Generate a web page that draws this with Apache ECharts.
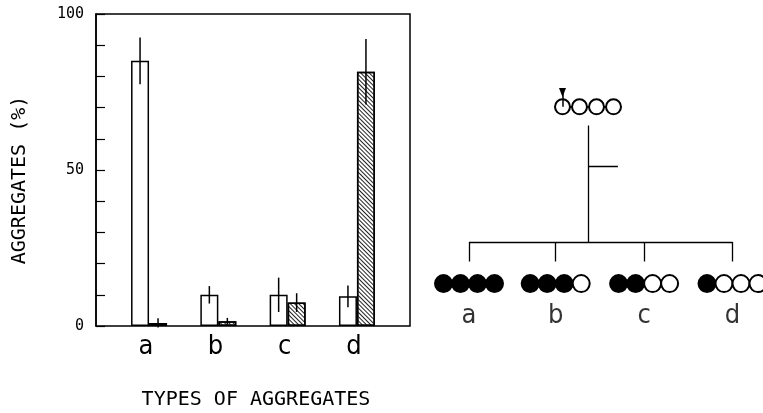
<!DOCTYPE html>
<html><head><meta charset="utf-8">
<script src="https://cdn.jsdelivr.net/npm/echarts@6/dist/echarts.min.js"></script>
<style>html,body{margin:0;padding:0;background:#fff}#c{width:763px;height:413px}</style>
</head><body><div id="c"></div>
<script>
// ---- bar chart data ----
const categories = ['a', 'b', 'c', 'd'];
const openValues = [85, 10, 10, 9.5];
const openErrors = [7.5, 2.8, 5.5, 3.5];
const hatchedValues = [1, 1.5, 7.5, 81.5];
const hatchedErrors = [1.5, 1.1, 3, 10.5];
const yTickLabels = [0, 50, 100];
const yTitle = 'AGGREGATES (%)';
const xTitle = 'TYPES OF AGGREGATES';

// ---- schematic data (diagram units: 1 = bead spacing) ----
const childCenters = [0, 5.1, 10.3, 15.5];
const childFilledCounts = [4, 3, 2, 1];
const rootCenter = 7;
const beadsPerChain = 4;
const levelArrowTop = 0.3, levelArrowHead = 0.56, levelRoot = 1.4, levelStemTop = 2.5,
      levelBranch = 4.9, levelBar = 9.35, levelDrop = 10.5, levelChild = 11.8, levelLabel = 13.7;
const branchLength = 1.76;

// ---- build ----
const FONT = 'DejaVu Sans Mono';
const LABEL_FONT = '"DejaVu Sans Condensed", "Liberation Sans Narrow", sans-serif';
const BAR_W = 18;

function beadXs(c) { const xs = []; for (let k = 0; k < beadsPerChain; k++) xs.push(c + k - (beadsPerChain - 1) / 2); return xs; }

const childBeads = [];
childCenters.forEach((c, i) => beadXs(c).forEach((x, k) => childBeads.push([x, levelChild, k < childFilledCounts[i] ? 1 : 0])));
const rootBeads = beadXs(rootCenter).map(x => [x, levelRoot, 0]);

const treeLines = [
  { coords: [[rootCenter, levelStemTop], [rootCenter, levelBar]] },
  { coords: [[rootCenter, levelBranch], [rootCenter + branchLength, levelBranch]] },
  { coords: [[childCenters[0], levelBar], [childCenters[childCenters.length - 1], levelBar]] }
];
childCenters.forEach(c => treeLines.push({ coords: [[c, levelBar], [c, levelDrop]] }));
const chainLinks = [];
childCenters.forEach(c => { const xs = beadXs(c); chainLinks.push({ coords: [[xs[0], levelChild], [xs[xs.length - 1], levelChild]] }); });
{ const xs = beadXs(rootCenter); chainLinks.push({ coords: [[xs[0], levelRoot], [xs[xs.length - 1], levelRoot]] }); }
const firstRootX = beadXs(rootCenter)[0];

function errorSeries(values, errors, side) {
  return {
    type: 'custom', xAxisIndex: 1, yAxisIndex: 1, z: 10,
    data: values.map((v, i) => [i, v - errors[i], v + errors[i]]),
    encode: { x: 0, y: [1, 2] },
    renderItem(params, api) {
      const lo = api.coord([api.value(0), api.value(1)]);
      const hi = api.coord([api.value(0), api.value(2)]);
      const off = side * BAR_W / 2;
      return { type: 'line', shape: { x1: lo[0] + off, y1: lo[1], x2: hi[0] + off, y2: hi[1] },
        style: { stroke: '#000', lineWidth: 1.5 } };
    }
  };
}

const hidden = { show: false };
const chart = echarts.init(document.getElementById('c'), null, { renderer: 'canvas' });
chart.setOption({
  backgroundColor: '#fff',
  animation: false,
  grid: [
    { left: 96, top: 14, width: 314, height: 312, show: true, borderColor: '#000', borderWidth: 1.5,
      backgroundColor: 'transparent', outerBoundsMode: 'none', containLabel: false },
    { left: 114.4, top: 14, width: 277.2, height: 312, outerBoundsMode: 'none', containLabel: false },
    { left: 435, top: 83, width: 340, height: 238, outerBoundsMode: 'none', containLabel: false }
  ],
  xAxis: [
    { gridIndex: 0, type: 'value', min: 0, max: 1, axisLine: hidden, axisTick: hidden, axisLabel: hidden, splitLine: hidden,
      name: xTitle, nameLocation: 'middle', nameGap: 64,
      nameTextStyle: { fontFamily: FONT, fontSize: 20, color: '#000', padding: [0, 0, 0, 6] } },
    { gridIndex: 1, type: 'category', data: categories, axisLine: hidden, axisTick: hidden,
      axisLabel: { fontFamily: LABEL_FONT, fontSize: 27, color: '#000', margin: 7, padding: [0, 6, 0, 0] } },
    { gridIndex: 2, type: 'value', min: -2, max: 18, show: false }
  ],
  yAxis: [
    { gridIndex: 0, type: 'value', min: 0, max: 100, interval: 10,
      axisLine: { show: true, lineStyle: { color: '#000', width: 1.5 } },
      axisTick: { show: true, inside: true, length: 9, lineStyle: { color: '#000', width: 1.2 } },
      axisLabel: { fontFamily: FONT, fontSize: 15, color: '#000', margin: 12, padding: [9, 0, 0, 0],
        formatter: v => yTickLabels.indexOf(v) >= 0 ? String(v) : '' },
      splitLine: hidden,
      name: yTitle, nameLocation: 'middle', nameGap: 66, nameRotate: 90,
      nameTextStyle: { fontFamily: FONT, fontSize: 20, color: '#000', padding: [0, 20, 0, 0] } },
    { gridIndex: 1, type: 'value', min: 0, max: 100, show: false },
    { gridIndex: 2, type: 'value', min: 0, max: 14, inverse: true, show: false }
  ],
  series: [
    { type: 'bar', xAxisIndex: 1, yAxisIndex: 1, data: openValues, barWidth: BAR_W, barGap: '0%',
      itemStyle: { color: '#fff', borderColor: '#000', borderWidth: 1.5 } },
    { type: 'bar', xAxisIndex: 1, yAxisIndex: 1, data: hatchedValues, barWidth: BAR_W, barGap: '0%',
      itemStyle: { color: '#fff', borderColor: '#000', borderWidth: 1.5,
        decal: { symbol: 'rect', symbolSize: 1, dashArrayX: [1, 0], dashArrayY: [1, 2], rotation: Math.PI / 4, color: '#222' } } },
    errorSeries(openValues, openErrors, -1),
    errorSeries(hatchedValues, hatchedErrors, 1),
    { type: 'lines', coordinateSystem: 'cartesian2d', xAxisIndex: 2, yAxisIndex: 2, z: 2,
      data: treeLines, lineStyle: { color: '#000', width: 1.3, opacity: 1 } },
    { type: 'lines', coordinateSystem: 'cartesian2d', xAxisIndex: 2, yAxisIndex: 2, z: 2,
      data: chainLinks, lineStyle: { color: '#000', width: 1.5, opacity: 1 } },
    { type: 'scatter', xAxisIndex: 2, yAxisIndex: 2, z: 3, symbolSize: 17, clip: false,
      data: childBeads,
      itemStyle: { color: p => p.data[2] ? '#000' : '#fff', borderColor: '#000', borderWidth: 2, opacity: 1 } },
    { type: 'scatter', xAxisIndex: 2, yAxisIndex: 2, z: 3, symbolSize: 15, clip: false,
      data: rootBeads,
      itemStyle: { color: '#fff', borderColor: '#000', borderWidth: 2, opacity: 1 } },
    { type: 'lines', coordinateSystem: 'cartesian2d', xAxisIndex: 2, yAxisIndex: 2, z: 4,
      data: [{ coords: [[firstRootX, levelArrowTop], [firstRootX, levelRoot]] }],
      lineStyle: { color: '#000', width: 1.5, opacity: 1 } },
    { type: 'scatter', xAxisIndex: 2, yAxisIndex: 2, z: 4, symbol: 'triangle', symbolRotate: 180, symbolSize: [7, 9],
      data: [[firstRootX, levelArrowHead]], itemStyle: { color: '#000', opacity: 1 } },
    { type: 'scatter', xAxisIndex: 2, yAxisIndex: 2, z: 4, symbolSize: 0, clip: false,
      data: childCenters.map((c, i) => ({ value: [c, levelLabel], name: categories[i] })),
      label: { show: true, position: 'inside', formatter: '{b}', fontFamily: LABEL_FONT, fontSize: 27, color: '#000' } }
  ]
});
</script></body></html>
